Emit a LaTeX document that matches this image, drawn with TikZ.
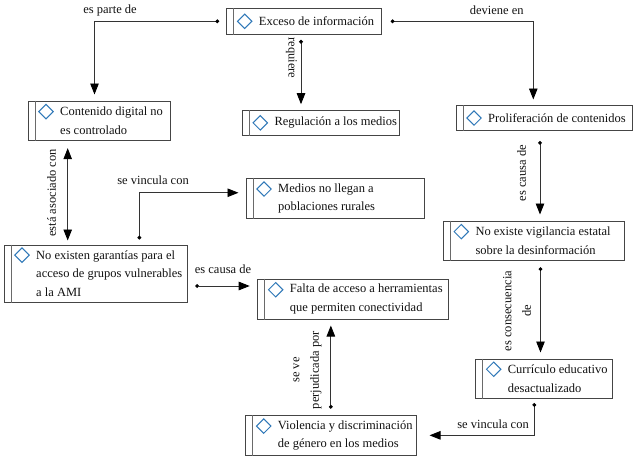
\documentclass[tikz,border=0pt]{standalone}
\usepackage{fontspec}
\setmainfont{Liberation Serif}
\usetikzlibrary{arrows.meta}
\definecolor{boxc}{HTML}{454545}
\definecolor{innerc}{HTML}{6A6A6A}
\definecolor{diac}{HTML}{2F78B8}
\definecolor{linec}{HTML}{333333}
\definecolor{txtc}{HTML}{111111}
% #1 name, #2 cx, #3 cy, #4 width, #5 height, #6 diamond yshift (pt, up), #7 text
\newcommand\conceptbox[7]{%
  \node[cbox, minimum width=#4pt, minimum height=#5pt] (#1) at (#2,#3) {};
  \draw[innerl] ([xshift=7.6pt]#1.north west) -- ([xshift=7.6pt]#1.south west);
  \draw[diam] ([xshift=11.3pt,yshift=#6pt]#1.west) -- ++(7.2pt,7.2pt) -- ++(7.2pt,-7.2pt) -- ++(-7.2pt,-7.2pt) -- cycle;
  \node[txt, anchor=west] (#1t) at ([xshift=32.5pt]#1.west) {#7};
}
\begin{document}
\begin{tikzpicture}[x=1pt,y=-1pt,
  cbox/.style={draw=boxc, line width=1pt, fill=white, inner sep=0pt},
  innerl/.style={draw=innerc, line width=1pt},
  diam/.style={draw=diac, line width=1pt, line join=miter},
  txt/.style={font=\fontsize{12.5}{18.5}\selectfont, text=txtc, align=left, inner sep=0pt},
  lbl/.style={font=\fontsize{12.5}{19.5}\selectfont, text=txtc, align=center, inner sep=0pt},
  conn/.style={draw=linec, line width=0.9pt, {Circle[length=3.8pt, color=black]}-{Triangle[length=11pt,width=8.5pt, color=black]}, shorten <=6pt, shorten >=6pt},
  dconn/.style={draw=linec, line width=0.9pt, {Triangle[length=11pt,width=8.5pt, color=black]}-{Triangle[length=11pt,width=8.5pt, color=black]}},
  ]
\useasboundingbox (0,0) rectangle (634,458);

\conceptbox{ex}{304.2}{21.3}{155}{26}{0}{Exceso de información}
\conceptbox{cd}{99}{120.85}{142}{39.7}{9.25}{Contenido digital no\\es controlado}
\conceptbox{rm}{320.65}{122.85}{156.7}{24.3}{0}{Regulación a los medios}
\conceptbox{pc}{544}{118}{176}{25}{0}{Proliferación de contenidos}
\conceptbox{ml}{335}{198.25}{178}{40.5}{9.25}{Medios no llegan a\\poblaciones rurales}
\conceptbox{ne}{95.85}{273.65}{183.7}{57.3}{18.5}{No existen garantías para el\\acceso de grupos vulnerables\\a la AMI}
\conceptbox{fa}{352.85}{299}{190.3}{40}{9.25}{Falta de acceso a herramientas\\que permiten conectividad}
\conceptbox{vi}{533.65}{240.85}{180.7}{39.7}{9.25}{No existe vigilancia estatal\\sobre la desinformación}
\conceptbox{cu}{544.2}{378.5}{137}{39}{9.25}{Currículo educativo\\desactualizado}
\conceptbox{vd}{330.85}{435.35}{170.3}{39.3}{9.25}{Violencia y discriminación\\de género en los medios}

% connectors
\draw[conn, shorten <=7pt] (ex.west) -| ([xshift=-4.5pt]cd.north);
\draw[conn, shorten <=5pt] ([xshift=-3.2pt]ex.south) -- ([xshift=-3.2pt]ex.south |- rm.north);
\draw[conn, shorten <=8.5pt, shorten >=5.5pt] (ex.east) -| ([xshift=-10.7pt]pc.north);
\draw[dconn, shorten <=7pt, shorten >=4pt] ([xshift=-31.3pt]cd.south) -- ([xshift=-31.3pt]cd.south |- ne.north);
\draw[conn, shorten <=5pt, shorten >=7pt] ([xshift=43.5pt]ne.north) |- ([yshift=5.5pt]ml.west);
\draw[conn, shorten <=7pt, shorten >=7.5pt] ([yshift=-12.35pt]ne.east) -- ([yshift=-12.35pt]ne.east -| fa.west);
\draw[conn, shorten <=10pt] ([xshift=-4pt]pc.south) -- ([xshift=-4pt]pc.south |- vi.north);
\draw[conn] ([xshift=6.85pt]vi.south) -- ([xshift=6.85pt]vi.south |- cu.north);
\draw[conn, shorten <=4.5pt, shorten >=13pt] ([xshift=-9.9pt]cu.south) |- (vd.east);
\draw[conn, shorten <=6.5pt] (vd.north) -- (vd.north |- fa.south);

% labels
\node[lbl] (l1) at (110,10.7) {es parte de};
\node[lbl, rotate=-90] (l2) at (291.5,58) {requiere};
\node[lbl] (l3) at (496.7,10) {deviene en};
\node[lbl, rotate=90] (l4) at (51.7,193) {está asociado con};
\node[lbl] (l5) at (153,180.7) {se vincula con};
\node[lbl] (l6) at (223,269) {es causa de};
\node[lbl, rotate=90] (l7) at (521.7,173) {es causa de};
\node[lbl, rotate=90] (l8) at (517,311) {es consecuencia\\de};
\node[lbl, rotate=90] (l9) at (307.5,370) {se ve\\perjudicada por};
\node[lbl] (l10) at (493,424) {se vincula con};
\end{tikzpicture}
\end{document}
